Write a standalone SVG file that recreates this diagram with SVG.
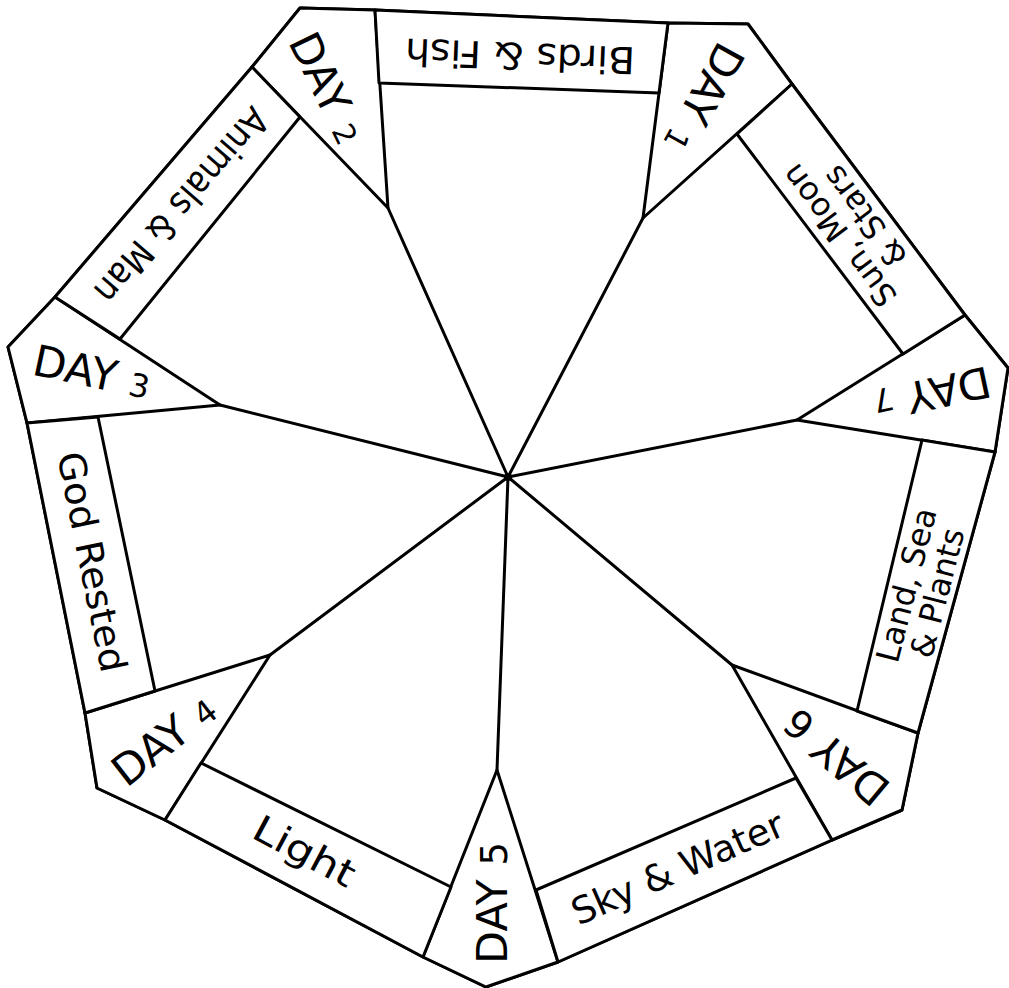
<svg xmlns="http://www.w3.org/2000/svg" width="1009" height="988" viewBox="0 0 1009 988">
  <style>
    .shape { fill: #ffffff; stroke: #000000; stroke-width: 3; stroke-linejoin: round; stroke-linecap: round; }
    .spoke { fill: none; stroke: #000000; stroke-width: 3; stroke-linecap: round; }
    .day { font-family: "DejaVu Sans", "Liberation Sans", sans-serif; font-size: 43px; fill: #000000; text-anchor: middle; }
    .lbl { font-family: "DejaVu Sans", "Liberation Sans", sans-serif; font-size: 37px; fill: #000000; text-anchor: middle; }
    .lbl2 { font-family: "DejaVu Sans", "Liberation Sans", sans-serif; font-size: 32px; fill: #000000; text-anchor: middle; }
  </style>
  <rect x="0" y="0" width="1009" height="988" fill="#ffffff"/>

  <!-- outer heptagon -->
  <g id="outline">
    <path class="shape" d="M300,8 L375,10 L668,23 L748,24 L792,84 L965,315 L1008,368 L995,452 L918,733 L902,810 L832,840 L558,962 L486,987 L423,957 L165,820 L97,788 L85,713 L27,423 L8,347 L55,297 L252,67 Z"/>
  </g>

  <!-- spokes -->
  <g id="connectors">
    <line class="spoke" x1="508" y1="477" x2="388" y2="208"/>
    <line class="spoke" x1="508" y1="477" x2="643" y2="218"/>
    <line class="spoke" x1="508" y1="477" x2="797" y2="420"/>
    <line class="spoke" x1="508" y1="477" x2="732" y2="665"/>
    <line class="spoke" x1="508" y1="477" x2="497" y2="770"/>
    <line class="spoke" x1="508" y1="477" x2="270" y2="655"/>
    <line class="spoke" x1="508" y1="477" x2="220" y2="405"/>
    <circle cx="508" cy="477" r="4" fill="#000000"/>
  </g>

  <!-- DAY sectors -->
  <g id="day1">
    <polygon class="shape" points="643,218 668,23 748,24 792,84"/>
    <text class="day" transform="translate(704,98) rotate(119)" y="15">DAY <tspan font-size="30">1</tspan></text>
  </g>
  <g id="day2">
    <polygon class="shape" points="388,208 252,67 300,8 375,10"/>
    <text class="day" transform="translate(327,88) rotate(64)" y="15">DAY <tspan font-size="30">2</tspan></text>
  </g>
  <g id="day3">
    <polygon class="shape" points="220,405 27,423 8,347 55,297"/>
    <text class="day" transform="translate(92,372) rotate(12)" y="15">DAY <tspan font-size="32">3</tspan></text>
  </g>
  <g id="day4">
    <polygon class="shape" points="270,655 165,820 97,788 85,713"/>
    <text class="day" transform="translate(164,740) rotate(-38)" y="15">DAY <tspan font-size="32">4</tspan></text>
  </g>
  <g id="day5">
    <polygon class="shape" points="497,770 558,962 486,987 423,957"/>
    <text class="day" transform="translate(492,903) rotate(-90)" y="15">DAY <tspan font-size="37">5</tspan></text>
  </g>
  <g id="day6">
    <polygon class="shape" points="732,665 918,733 902,810 832,840"/>
    <text class="day" transform="translate(836,757) rotate(220)" y="15">DAY <tspan font-size="39">6</tspan></text>
  </g>
  <g id="day7">
    <polygon class="shape" points="797,420 965,315 1008,368 995,452"/>
    <text class="day" transform="translate(932,393) rotate(168)" y="15">DAY <tspan font-size="32">7</tspan></text>
  </g>

  <!-- label bands -->
  <g id="birds-fish">
    <polygon class="shape" points="375,10 668,23 659,93 379,83"/>
    <text class="lbl" transform="translate(520,55) rotate(182.3)" y="12" textLength="230" lengthAdjust="spacingAndGlyphs">Birds &amp; Fish</text>
  </g>
  <g id="sun-moon-stars">
    <polygon class="shape" points="792,84 965,315 903,354 737,134"/>
    <g transform="translate(852,226) rotate(233.2)">
      <text class="lbl2" y="-5">Sun, Moon</text>
      <text class="lbl2" y="27">&amp; Stars</text>
    </g>
  </g>
  <g id="land-sea-plants">
    <polygon class="shape" points="995,452 918,733 857,711 922,440"/>
    <g transform="translate(922,589) rotate(-75.5)">
      <text class="lbl2" y="-5">Land, Sea</text>
      <text class="lbl2" y="27">&amp; Plants</text>
    </g>
  </g>
  <g id="sky-water">
    <polygon class="shape" points="832,840 558,962 536,890 796,778"/>
    <text class="lbl" transform="translate(678,869) rotate(-23.7)" y="12" textLength="228" lengthAdjust="spacingAndGlyphs">Sky &amp; Water</text>
  </g>
  <g id="light">
    <polygon class="shape" points="423,957 165,820 201,763 451,887"/>
    <text class="lbl" transform="translate(304,852) rotate(28)" y="12" textLength="110" lengthAdjust="spacingAndGlyphs">Light</text>
  </g>
  <g id="god-rested">
    <polygon class="shape" points="85,713 27,423 98,417 155,691"/>
    <text class="lbl" transform="translate(91,562) rotate(78.5)" y="12" textLength="224" lengthAdjust="spacingAndGlyphs">God Rested</text>
  </g>
  <g id="animals-man">
    <polygon class="shape" points="55,297 252,67 300,117 120,339"/>
    <text class="lbl" transform="translate(181,205) rotate(130.8)" y="12" textLength="245" lengthAdjust="spacingAndGlyphs">Animals &amp; Man</text>
  </g>
</svg>
